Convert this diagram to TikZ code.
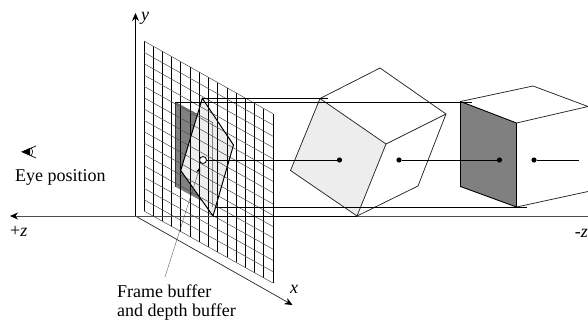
\documentclass[tikz,border=0pt]{standalone}
\usepackage{fontspec}
\setmainfont{Liberation Serif}
\usetikzlibrary{arrows.meta}
\definecolor{lightf}{gray}{0.93}
\definecolor{darkf}{gray}{0.5}
\tikzset{
  edge/.style={line width=0.75pt,black!85},
  proj/.style={line width=0.85pt,black},
  gridv/.style={line width=0.8pt,black},
  gridh/.style={line width=0.5pt,black!70},
  axis/.style={line width=0.7pt,black!85,-{Stealth[length=8pt,width=7pt,black]}},
  dotmark/.style={circle,fill=black,inner sep=0pt,minimum size=5.2pt},
  lbl/.style={font=\fontsize{18}{20}\selectfont,inner sep=0pt}
}
\begin{document}
\begin{tikzpicture}[x=1pt,y=-1pt]
\useasboundingbox (0,0) rectangle (588,322);
% faces under the grid
\fill[darkf] (175.3,102.3) -- (212.7,122.5) -- (212.7,207) -- (175.3,186.7) -- cycle;
\fill[lightf] (202.3,98.3) -- (233.5,145) -- (213,216) -- (180.7,170.5) -- cycle;
% grid
\foreach \i in {0,...,14}{
  \draw[gridv] ({144+\i*129/14},{41+\i*72.7/14}) -- ({144+\i*129/14},{211+\i*72/14});
}
\foreach \j in {0,...,15}{
  \draw[gridh] (144,{41+\j*170/15}) -- (273,{113.7+\j*169.3/15});
}
% outlines of the projected faces
\draw[gridh] (175.3,102.3) -- (212.7,122.5) -- (212.7,207);
\draw[line width=0.6pt,black!80] (175.3,102.3) -- (175.3,186.7);
\draw[line width=1pt] (202.3,98.3) -- (233.5,145) -- (213,216) -- (180.7,170.5) -- cycle;
% axes
\coordinate (o) at (135.5,216);
\coordinate (yt) at (135.5,13);
\coordinate (xe) at (292.5,305);
\coordinate (ze) at (588,216);
\coordinate (zt) at (10,216);
\draw[axis,line width=0.8pt,black] (o) -- (yt);
\draw[axis] (o) -- (xe);
\draw[axis,black!70] (ze) -- (zt);
% cube 1
\coordinate (a1) at (320,98.5);
\coordinate (b1) at (386,144);
\coordinate (c1) at (357,216);
\coordinate (d1) at (290.5,170.5);
\coordinate (e1) at (380,68);
\coordinate (f1) at (446,114);
\coordinate (g1) at (418,186);
\draw[edge,fill=lightf] (a1) -- (b1) -- (c1) -- (d1) -- cycle;
\draw[edge] (a1) -- (e1) -- (f1) -- (b1) (f1) -- (g1) -- (c1);
% cube 2
\coordinate (a2) at (460.5,101.5);
\coordinate (b2) at (516.5,123);
\coordinate (c2) at (516.5,207);
\coordinate (d2) at (460.5,186.5);
\coordinate (e2) at (533,86);
\coordinate (f2) at (588,106.5);
\coordinate (g2) at (588,191.5);
\draw[line width=0.9pt,fill=darkf] (a2) -- (b2) -- (c2) -- (d2) -- cycle;
\draw[edge] (a2) -- (e2) -- (f2) -- (b2) (c2) -- (g2);
% projection lines
\coordinate (p1) at (202.3,98.3);
\coordinate (p2) at (175.3,102.3);
\coordinate (p3) at (216,207.3);
\coordinate (p4) at (213,216);
\draw[proj] (p1) -- (328,98.3);
\draw[proj] (p2) -- (472,102.3);
\draw[proj] (p3) -- (527,207.3);
\draw[proj] (p4) -- (c1);
% dots and connecting lines
\node[circle,draw=black,fill=white,line width=0.8pt,inner sep=0pt,minimum size=7pt] (s) at (203,160) {};
\node[dotmark] (d1a) at (339.5,160) {};
\node[dotmark] (d1b) at (399,160) {};
\node[dotmark] (d2a) at (499.5,160) {};
\node[dotmark] (d2b) at (534,160) {};
\coordinate (endz) at (579,160);
\draw[proj] (s) -- (d1a);
\draw[proj] (d1b) -- (d2a);
\draw[proj] (d2b) -- (endz);
% leader
\coordinate (ll) at (165,277);
\coordinate (lt) at (200,167);
\draw[line width=0.35pt,black!70,-{Stealth[length=6pt,width=4pt,black]}] (ll) -- (lt);
% eye
\fill (22,151.8) -- (30,148) -- (30,155.5) -- cycle;
\draw[line width=0.7pt] (36,146) -- (22,151.8) -- (36,158);
\draw[line width=0.6pt] (31,147.8) .. controls (33,150.5) and (33,153) .. (31,155.8);
% labels
\node[lbl,anchor=base west] (ly) at (141,20) {\itshape y};
\node[lbl,anchor=base west] (lx) at (290,293) {\itshape x};
\node[lbl,anchor=base west] (lz) at (10,236) {+\itshape z};
\node[lbl,anchor=base east] (lmz) at (588,237) {-\itshape z};
\node[lbl,anchor=base west] (le) at (15,181) {Eye position};
\node[lbl,anchor=base west] (lf) at (117,297) {Frame buffer};
\node[lbl,anchor=base west] (lg) at (117,316) {and depth buffer};
\end{tikzpicture}
\end{document}
